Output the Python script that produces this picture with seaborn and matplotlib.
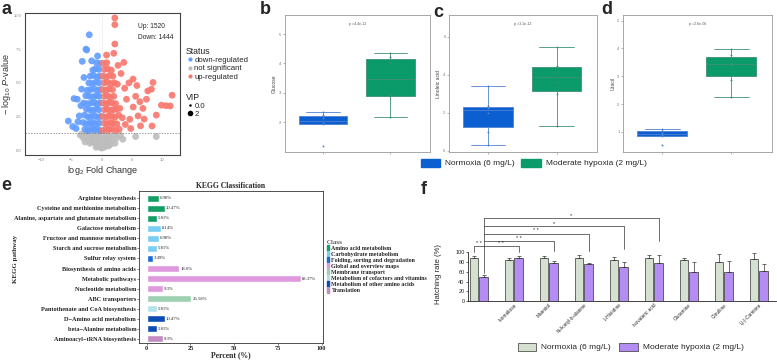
import pandas as pd
import seaborn as sns
import matplotlib.pyplot as plt
from matplotlib.lines import Line2D
from matplotlib.patches import Patch

sns.set_theme(style="white")
plt.rcParams["font.family"] = ["Liberation Sans", "DejaVu Sans"]
plt.rcParams["mathtext.fontset"] = "custom"
plt.rcParams["mathtext.rm"] = "Liberation Sans"
plt.rcParams["mathtext.it"] = "Liberation Sans:italic"

# ---------------- panel a : volcano ----------------
down_x = [-2.03, -2.57, -2.45, -0.66, -3.18, -1.64, -5.47, -4.75, -4.54, -4.0, -3.67, -3.28, -3.9, -3.4, -2.9, -4.2,
          -0.2, -0.7, -1.25, -1.7, -2.2, -2.75,
          -0.4, -0.95, -1.4, -1.9, -2.45, -3.05,
          -0.15, -0.7, -1.15, -1.75, -2.2, -2.8,
          -0.45, -0.9, -1.4, -1.95, -2.5,
          -0.2, -0.75, -1.2, -1.7, -2.3, -2.95,
          -0.4, -0.9, -1.45, -2.0, -2.6,
          -0.15, -0.65, -1.2, -1.8, -2.35,
          -0.4, -0.95, -1.5, -2.1,
          -0.2, -0.7, -1.3, -1.85,
          -0.45, -1.0, -1.45,
          -0.25, -0.85]
down_y = [8.58, 7.51, 7.45, 7.0, 6.6, 6.64, 2.16, 1.75, 3.83, 3.78, 2.54, 4.53, 2.1, 3.3, 5.4, 1.6,
          1.45, 1.55, 1.5, 1.6, 1.45, 1.55,
          2.0, 1.95, 2.05, 2.0, 1.95, 2.05,
          2.5, 2.45, 2.55, 2.5, 2.45, 2.6,
          3.0, 3.05, 2.95, 3.0, 3.05,
          3.5, 3.45, 3.55, 3.5, 3.45, 3.5,
          4.0, 4.05, 3.95, 4.0, 4.05,
          4.5, 4.45, 4.55, 4.5, 4.45,
          5.0, 5.05, 4.95, 5.0,
          5.5, 5.45, 5.55, 5.5,
          6.0, 6.05, 5.95,
          6.45, 6.5]
up_x = [2.18, 2.18, 2.18, 0.82, 2.0, 3.66, 8.46, 8.2, 11.6, 11.3, 9.84, 7.38, 8.3, 6.0, 5.18, 4.1, 4.64, 10.6,
        6.8, 7.6, 5.6, 3.2, 2.7, 6.4, 5.2, 3.8, 4.5, 9.0, 7.0, 3.4, 5.8, 4.8, 3.0, 6.3, 2.6, 3.9,
        0.2, 0.7, 1.25, 1.7, 2.3, 2.9,
        0.4, 0.95, 1.4, 1.9, 2.5,
        0.15, 0.7, 1.2, 1.75, 2.2, 2.8,
        0.45, 0.9, 1.4, 1.95, 2.4,
        0.2, 0.75, 1.2, 1.7, 2.3,
        0.4, 0.9, 1.45, 2.0,
        0.15, 0.65, 1.2, 1.8,
        0.4, 0.95, 1.5, 2.1,
        0.2, 0.7, 1.3, 1.85,
        0.45, 1.0, 1.6,
        0.25, 0.85]
up_y = [9.83, 9.33, 7.89, 7.07, 7.2, 6.52, 5.03, 4.53, 4.08, 3.28, 3.34, 3.78, 1.79, 2.54, 5.28, 3.78, 2.29, 3.3,
        3.1, 4.4, 4.0, 5.7, 6.3, 1.8, 3.2, 4.6, 5.0, 2.6, 2.3, 2.4, 4.8, 1.6, 3.1, 3.6, 4.9, 1.9,
        1.45, 1.55, 1.5, 1.6, 1.45, 1.55,
        2.0, 1.95, 2.05, 2.0, 1.95,
        2.5, 2.45, 2.55, 2.5, 2.45, 2.6,
        3.0, 3.05, 2.95, 3.0, 3.05,
        3.5, 3.45, 3.55, 3.5, 3.45,
        4.0, 4.05, 3.95, 4.0,
        4.5, 4.45, 4.55, 4.5,
        5.0, 5.05, 4.95, 5.0,
        5.5, 5.45, 5.55, 5.5,
        6.0, 6.05, 5.95,
        6.45, 6.5]
ns_x = [5.6, 9.0, -3.5, -3.0, -2.5, -2.3, -1.9, -1.6, -1.3, -1.1, -0.8, -0.6, -0.4, -0.2, 0.0, 0.2, 0.4, 0.6,
        0.8, 1.0, 1.3, 1.6, 2.0, 2.5, 3.1, -1.9, -0.5, 0.4, 1.4, -1.0, 0.1, -0.2, 0.7, -2.7, 2.2, -0.9,
        0.1, -2.1, 3.5, -1.4, 1.1, -3.2]
ns_y = [1.0, 1.0, 1.1, 0.9, 1.2, 0.8, 1.0, 0.6, 1.2, 0.8, 0.4, 1.0, 0.6, 0.2, 0.15, 0.4, 0.8, 0.3,
        1.1, 0.6, 1.0, 0.7, 1.1, 0.9, 1.1, 0.5, 0.25, 0.2, 0.4, 1.2, 1.2, 0.8, 0.7, 0.6, 0.5, 0.2,
        0.5, 1.2, 0.8, 0.9, 0.3, 1.2]
status_colors = {"not significant": "#BDBDBD", "down-regulated": "#619CFF", "up-regulated": "#F8766D"}

# ---------------- panels b-d : box plots ----------------
groups = ["Normoxia (6 mg/L)", "Moderate hypoxia (2 mg/L)"]
glucose_norm = [1.20, 1.92, 1.96, 2.14, 2.23, 2.33]
glucose_hyp = [2.17, 2.88, 2.92, 4.00, 4.21, 4.34]
linoleic_norm = [0.28, 1.00, 2.00, 2.25, 2.35, 3.40]
linoleic_hyp = [1.32, 3.00, 3.64, 4.16, 4.48, 5.44]
uracil_norm = [0.52, 0.86, 0.88, 0.98, 1.03, 1.10]
uracil_hyp = [2.24, 2.86, 3.42, 3.46, 3.75, 3.98]
p_texts = ["p =4.4e-12", "p =3.1e-12", "p =2.6e-06"]

# ---------------- panel e : KEGG ----------------
pathways = ["Arginine biosynthesis", "Cysteine and methionine metabolism",
            "Alanine, aspartate and glutamate metabolism", "Galactose metabolism",
            "Fructose and mannose metabolism", "Starch and sucrose metabolism", "Sulfur relay system",
            "Biosynthesis of amino acids", "Metabolic pathways", "Nucleotide metabolism",
            "ABC transporters", "Pantothenate and CoA biosynthesis", "D\u2212Amino acid metabolism",
            "beta\u2212Alanine metabolism", "Aminoacyl\u2212tRNA biosynthesis"]
percents = [6.98, 10.47, 5.81, 8.14, 6.98, 5.81, 3.49, 18.6, 88.37, 9.3, 25.58, 5.81, 10.47, 5.81, 9.3]
pct_labels = ["6.98%", "10.47%", "5.81%", "8.14%", "6.98%", "5.81%", "3.49%", "18.6%", "88.37%", "9.3%",
              "25.58%", "5.81%", "10.47%", "5.81%", "9.3%"]
kegg_classes = ["Amino acid metabolism", "Carbohydrate metabolism", "Folding, sorting and degradation",
                "Global and overview maps", "Membrane transport", "Metabolism of cofactors and vitamins",
                "Metabolism of other amino acids", "Translation"]
pathway_class = [0, 0, 0, 1, 1, 1, 2, 3, 3, 3, 4, 5, 6, 6, 7]
class_colors = ["#139E66", "#7ACDF3", "#1B6BD6", "#DE9ADD", "#9FD0B2", "#B3E2EA", "#0B4DB4", "#C38CC0"]

# ---------------- panel f : hatching rate ----------------
compounds = ["", "Isomaltose", "Mannitol", "N-Acetyl-b-alanine", "L-Histidine", "Isovaleric acid",
             "Glutamine", "Citrulline", "L(-)-Carnitine"]
rate_norm = [88, 84, 88, 88, 84, 89, 85, 80, 86]
rate_hyp = [49, 89, 78, 77, 70, 78, 60, 60, 62]
err_norm = [5, 4, 5, 6, 6, 5, 3, 16, 12]
err_hyp = [5, 4, 4, 2, 10, 16, 21, 22, 14]
sig_labels = ["* *", "* *", "* *", "*", "*"]

W, H = 777, 361
fig = plt.figure(figsize=(W / 100, H / 100), dpi=100)


def px_axes(l, t, r, b):
    return fig.add_axes([l / W, 1 - b / H, (r - l) / W, (b - t) / H])


# ---------------- a ----------------
ax = px_axes(25, 13, 180, 155)
vol = pd.concat([
    pd.DataFrame({"fc": ns_x, "p": ns_y, "status": "not significant"}),
    pd.DataFrame({"fc": down_x, "p": down_y, "status": "down-regulated"}),
    pd.DataFrame({"fc": up_x, "p": up_y, "status": "up-regulated"}),
])
sns.scatterplot(data=vol, x="fc", y="p", hue="status", palette=status_colors, s=24, alpha=0.9,
                linewidth=0, legend=False, ax=ax)
ax.axhline(1.3, ls=(0, (2, 2)), color="#777777", lw=0.5)
ax.axvline(0, ls=":", color="#cccccc", lw=0.5)
ax.set_xlim(-12.6, 12.9)
ax.set_ylim(-0.37, 10.2)
ax.set_xticks([-10, -5, 0, 5, 10])
ax.set_yticks([0, 2.5, 5, 7.5, 10])
ax.set_yticklabels(["0.0", "2.5", "5.0", "7.5", "10.0"])
ax.tick_params(labelsize=3, colors="#888888", length=1.5, width=0.4, pad=1)
for s in ax.spines.values():
    s.set_color("#444444")
    s.set_linewidth(0.8)
ax.set_xlabel("log$_2$ Fold Change", fontsize=6.5, labelpad=1, color="#333333")
ax.set_ylabel(r"$-$ log$_{10}$ $P$-value", fontsize=6.5, color="#333333")
ax.yaxis.set_label_coords(-0.075, 0.5)
ax.text(0.73, 0.905, "Up: 1520", transform=ax.transAxes, fontsize=4.8, va="center")
ax.text(0.73, 0.83, "Down: 1444", transform=ax.transAxes, fontsize=4.8, va="center")

st_handles = [Line2D([], [], ls="", marker="o", ms=2, color=status_colors[k])
              for k in ["down-regulated", "not significant", "up-regulated"]]
leg1 = ax.legend(st_handles, ["down-regulated", "not significant", "up-regulated"], title="Status",
                 loc="upper left", bbox_to_anchor=(182 / W, 1 - 43 / H), bbox_transform=fig.transFigure,
                 frameon=False, fontsize=5.6, title_fontsize=6.3, handletextpad=0.1, labelspacing=0.1,
                 borderpad=0, handlelength=1.0, alignment="left")
ax.add_artist(leg1)
vip_handles = [Line2D([], [], ls="", marker="o", ms=0.8, color="black"),
               Line2D([], [], ls="", marker="o", ms=3, color="black")]
ax.legend(vip_handles, ["0.0", "2"], title="VIP", loc="upper left", bbox_to_anchor=(182 / W, 1 - 89 / H),
          bbox_transform=fig.transFigure, frameon=False, fontsize=5.6, title_fontsize=6.3,
          handletextpad=0.1, labelspacing=0.05, borderpad=0, handlelength=1.0, alignment="left")

# ---------------- b-d ----------------
box_fill = ["#0C5FD0", "#0B9A69"]
box_line = ["#4F82D2", "#3F8F77"]
box_specs = [
    ((285, 15, 430, 152), glucose_norm, glucose_hyp, "Glucose", (0.98, 5.65), [2, 3, 4, 5], p_texts[0]),
    ((449, 15, 597, 152), linoleic_norm, linoleic_hyp, "Linoleic acid", (-0.07, 7.15), [0, 2, 4, 6], p_texts[1]),
    ((623, 15, 772, 152), uracil_norm, uracil_hyp, "Uracil", (0.28, 5.2), [1, 2, 3, 4, 5], p_texts[2]),
]
for box, vn, vh, ylab, ylim, yt, ptxt in box_specs:
    ax = px_axes(*box)
    df = pd.DataFrame({"group": [groups[0]] * len(vn) + [groups[1]] * len(vh), "value": vn + vh})
    for i, g in enumerate(groups):
        sub = df[df.group == g]
        sns.boxplot(data=sub, x="group", y="value", order=groups, color=box_fill[i], linecolor=box_line[i],
                    width=0.72, linewidth=0.6, showfliers=False, saturation=1, ax=ax,
                    capwidths=0.5)
        sns.stripplot(data=sub, x="group", y="value", order=groups, color=box_line[i], size=1.4,
                      jitter=False, ax=ax)
    ax.set_xlim(-0.57, 1.59)
    ax.set_ylim(*ylim)
    ax.set_yticks(yt)
    ax.set_xticks([0, 1])
    ax.set_xticklabels(["", ""])
    ax.set_xlabel("")
    ax.set_ylabel(ylab, fontsize=3.6, labelpad=1.5, color="#444444")
    ax.tick_params(labelsize=3, colors="#777777", length=1.5, width=0.4, pad=1, left=True, bottom=True)
    for s in ax.spines.values():
        s.set_color("#999999")
        s.set_linewidth(0.6)
    ax.text(0.5, 0.95, ptxt, transform=ax.transAxes, ha="center", va="top", fontsize=2.6, color="#555555")

fig.legend([Patch(color=box_fill[0]), Patch(color=box_fill[1])], groups, loc="center left",
           bbox_to_anchor=(421 / W, 1 - 163 / H), ncol=2, frameon=False, fontsize=6, handlelength=2.3,
           handleheight=1.1, handletextpad=0.6, columnspacing=0.8, borderpad=0, borderaxespad=0)

# ---------------- e ----------------
serif = "Liberation Serif"
ax = px_axes(139, 191, 323, 343)
kegg = pd.DataFrame({"pathway": pathways, "percent": percents,
                     "cls": [kegg_classes[i] for i in pathway_class]})
sns.barplot(data=kegg, y="pathway", x="percent", hue="cls", hue_order=kegg_classes,
            palette=dict(zip(kegg_classes, class_colors)), dodge=False, width=0.7, saturation=1,
            legend=False, orient="h", ax=ax)
for p in ax.patches:
    row = int(round(p.get_y() + p.get_height() / 2))
    ax.text(p.get_x() + p.get_width() + 0.6, row, pct_labels[row], fontsize=3.4, family=serif,
            va="center", ha="left")
ax.set_xlim(-4.4, 100.8)
ax.set_ylim(14.4, -0.7)
ax.set_xticks([0, 25, 50, 75, 100])
ax.tick_params(labelsize=4.5, length=1.5, width=0.4, pad=0.5, left=True, bottom=True, colors="#222222")
for lbl in ax.get_xticklabels() + ax.get_yticklabels():
    lbl.set_fontfamily(serif)
    lbl.set_fontweight("bold")
for s in ax.spines.values():
    s.set_color("#333333")
    s.set_linewidth(0.6)
ax.set_title("KEGG Classification", fontsize=5.5, fontweight="bold", family=serif, pad=2)
ax.set_xlabel("Percent (%)", fontsize=5.5, fontweight="bold", family=serif, labelpad=0)
ax.set_ylabel("KEGG pathway", fontsize=5, fontweight="bold", family=serif)
ax.yaxis.set_label_coords(-0.66, 0.55)
ax.legend([Patch(color=c) for c in class_colors], kegg_classes, title="Class", loc="upper left",
          bbox_to_anchor=(324 / W, 1 - 237 / H), bbox_transform=fig.transFigure, frameon=False,
          prop={"family": serif, "size": 4.3, "weight": "bold"},
          title_fontproperties={"family": serif, "size": 5.3}, handlelength=0.35, handleheight=1.1,
          handletextpad=0.4, labelspacing=0.02, borderpad=0, alignment="left")

# ---------------- f ----------------
cond = ["Normoxia (6 mg/L)", "Moderate hypoxia (2 mg/L)"]
ax = px_axes(468, 195, 776, 301)
hatch = pd.DataFrame({"compound": compounds * 2,
                      "condition": [cond[0]] * len(compounds) + [cond[1]] * len(compounds),
                      "rate": rate_norm + rate_hyp})
f_colors = ["#D5E0D1", "#B38DF4"]
sns.barplot(data=hatch, x="compound", y="rate", hue="condition", palette=f_colors, width=0.56, gap=0.1,
            edgecolor="#333333", linewidth=0.5, errorbar=None, saturation=1, legend=False, ax=ax)
centers = []
for cont, errs in zip(ax.containers, [err_norm, err_hyp]):
    xs = [b.get_x() + b.get_width() / 2 for b in cont]
    tops = [b.get_height() for b in cont]
    ax.errorbar(xs, tops, yerr=[[0] * len(errs), errs], fmt="none", ecolor="#333333", elinewidth=0.5,
                capsize=1.5, capthick=0.5)
    centers.append(xs)
gx, px0 = centers[0][0], centers[1][0]
bk = dict(color="#333333", lw=0.5)
ax.plot([gx, gx, px0], [101, 113, 113], **bk)
ax.text((gx + px0) / 2, 114, "* *", fontsize=4, ha="center", va="bottom")
ax.plot([px0, px0], [58, 170], **bk)
bracket_h = [113, 123, 138, 154, 170]
bracket_end = [100, 103, 103, 107, 123]
for k, (h, e, lab) in enumerate(zip(bracket_h, bracket_end, sig_labels)):
    tx = centers[1][k + 1]
    ax.plot([px0, tx, tx], [h, h, e], **bk)
    ax.text((px0 + tx) / 2, h + 1, lab, fontsize=4, ha="center", va="bottom")
ax.set_xlim(-0.31, 8.49)
ax.set_ylim(0, 218)
ax.set_yticks([0, 20, 40, 60, 80, 100])
ax.spines["left"].set_bounds(0, 100)
for side in ["top", "right"]:
    ax.spines[side].set_visible(False)
for side in ["left", "bottom"]:
    ax.spines[side].set_color("#222222")
    ax.spines[side].set_linewidth(0.6)
ax.tick_params(axis="y", labelsize=4, length=1.5, width=0.5, pad=1, left=True)
ax.tick_params(axis="x", labelsize=3.4, length=0, pad=1)
ax.set_xticks(range(len(compounds)))
ax.set_xticklabels(compounds, rotation=45, ha="right", rotation_mode="anchor")
ax.set_xlabel("")
ax.set_ylabel("Hatching rate (%)", fontsize=5.5)
ax.yaxis.set_label_coords(-0.084, 0.25)
fig.legend([Patch(facecolor=f_colors[0], edgecolor="#333333", lw=0.5),
            Patch(facecolor=f_colors[1], edgecolor="#333333", lw=0.5)], cond, loc="center left",
           bbox_to_anchor=(518 / W, 1 - 347 / H), ncol=2, frameon=False, fontsize=6, handlelength=2.2,
           handleheight=1.1, handletextpad=0.6, columnspacing=1.0, borderpad=0, borderaxespad=0)

# panel letters
for letter, (x, y) in zip("abcdef", [(2, 1), (260, 1), (433, 4), (601, 1), (1, 177), (421, 181)]):
    fig.text(x / W, 1 - y / H, letter, fontsize=13, fontweight="bold", va="top", ha="left")

fig.savefig("out.png", dpi=100)
